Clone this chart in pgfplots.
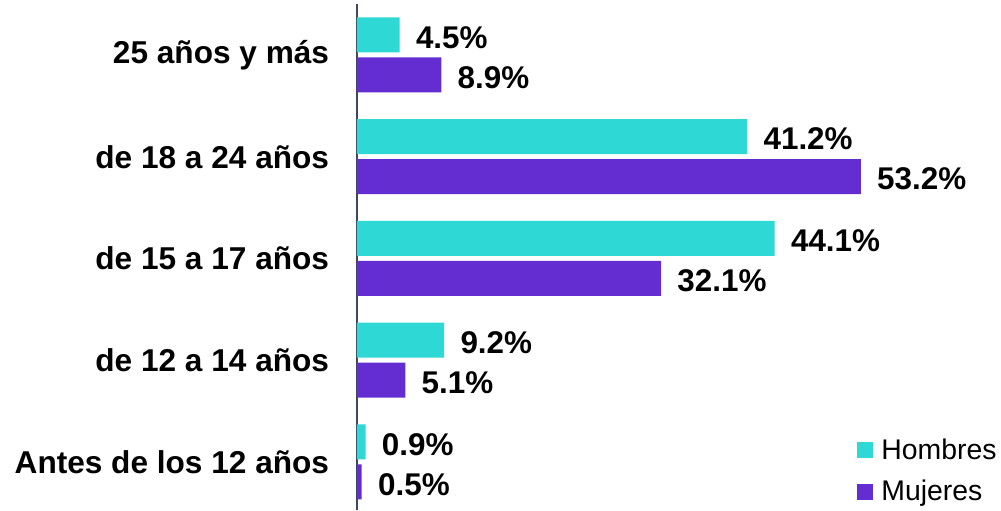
\documentclass[border=0pt]{standalone}
\usepackage{pgfplots}
\pgfplotsset{compat=1.18}
\usepackage{fontspec}
\setmainfont{Liberation Sans}
\usetikzlibrary{calc}
\definecolor{hombres}{RGB}{46,216,212}
\definecolor{mujeres}{RGB}{100,45,210}
\definecolor{axisline}{RGB}{59,72,94}
\begin{document}
\begin{tikzpicture}
\begin{axis}[
  scale only axis,
  width=322pt, height=252.95pt,
  xmin=0, xmax=68, ymin=-0.472, ymax=4.5,
  axis x line=none, axis y line=left,
  y axis line style={-, draw=axisline, line width=1pt},
  xtick=\empty,
  ytick={0,1,2,3,4},
  yticklabels={Antes de los 12 años, de 12 a 14 años, de 15 a 17 años, de 18 a 24 años, 25 años y más},
  ytick style={draw=none},
  yticklabel style={font=\fontsize{15.8}{18}\selectfont\bfseries, anchor=east, inner sep=0pt, xshift=-9.5pt},
  xbar, bar width=17.5pt,
  nodes near coords={\pgfmathprintnumber[fixed, precision=1, fixed zerofill, assume math mode=true]{\pgfplotspointmeta}\%},
  every node near coord/.append style={font=\fontsize{15.7}{18}\selectfont\bfseries, color=black, anchor=west, inner sep=0pt, xshift=8pt, yshift=-1.2pt},
  legend image code/.code={\fill[#1, draw=none] (0pt,-4pt) rectangle (8pt,4pt); \path (10pt,0pt);},
  legend style={draw=none, fill=none, at={(rel axis cs:1,0)}, anchor=south east,
    yshift=1pt,
    font=\fontsize{14.2}{16}\selectfont, row sep=5pt, inner sep=0pt,
    nodes={inner sep=2pt}},
  legend cell align=left,
  clip=false,
]
\addplot[fill=hombres, draw=none, bar shift=10pt] coordinates {
  (0.9,0) (9.2,1) (44.1,2) (41.2,3) (4.5,4)};
\addplot[fill=mujeres, draw=none, bar shift=-10pt] coordinates {
  (0.5,0) (5.1,1) (32.1,2) (53.2,3) (8.9,4)};
\legend{Hombres, Mujeres}
\coordinate (O) at (rel axis cs:0,0);
\end{axis}
\pgfresetboundingbox
\path[use as bounding box] ($(O)+(-178.5pt,0pt)$) rectangle ($(O)+(322pt,255pt)$);
\end{tikzpicture}
\end{document}
